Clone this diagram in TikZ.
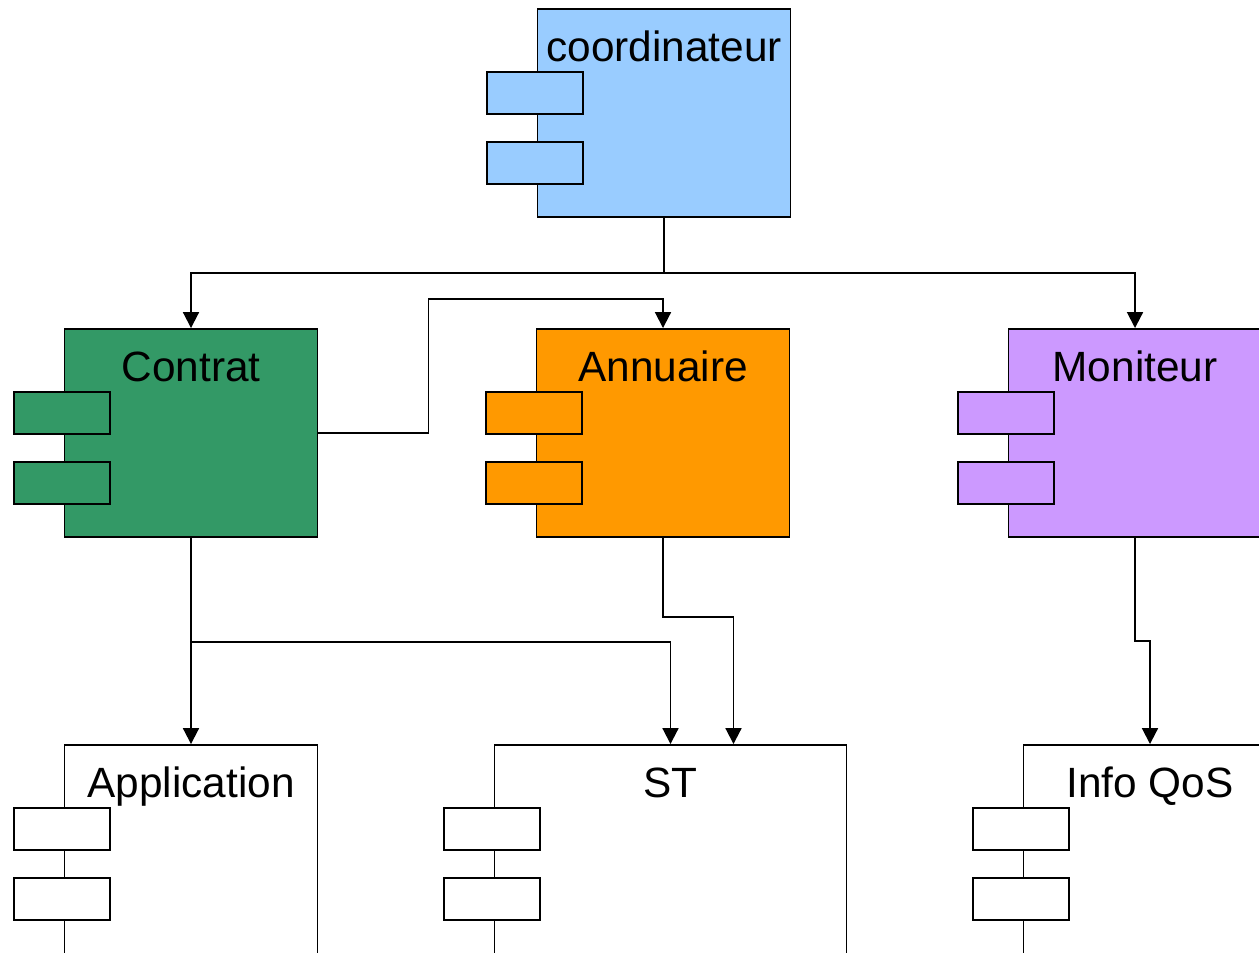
\documentclass[tikz,border=0pt]{standalone}
\usepackage{fontspec}
\setmainfont{Liberation Sans}
\usepackage{tikz}
\usetikzlibrary{arrows.meta}
\definecolor{coordblue}{HTML}{99CCFF}
\definecolor{contratgreen}{HTML}{339966}
\definecolor{annuaireorange}{HTML}{FF9900}
\definecolor{moniteurpurple}{HTML}{CC99FF}

\begin{document}
\begin{tikzpicture}[->,>={Triangle[length=9pt,width=9pt]},line width=1.1pt,node distance=9.44cm,
  comp/.style={draw,rectangle,inner sep=0pt,minimum width=5.06cm,minimum height=4.16cm,
    text height=1.05cm,text depth=3.11cm,font=\fontsize{24.1}{28}\selectfont},
  lowcomp/.style={comp,text depth=3.31cm,yshift=-0.1cm}]
  \clip (0,0) rectangle (25.18,-19.04);
  \node [comp,fill=contratgreen] at (3.82,-8.66) (contrat) {Contrat};
  \node [comp,fill=annuaireorange,right of=contrat] (annuaire) {Annuaire};
  \node [comp,fill=moniteurpurple,right of=annuaire] (moniteur) {Moniteur};
  \node [comp,fill=coordblue,above of=annuaire,node distance=6.4cm,xshift=0.02cm] (coord) {coordinateur};
  \node [lowcomp,below of=contrat,node distance=8.32cm] (application) {Application};
  \node [lowcomp,below of=annuaire,node distance=8.32cm,xshift=0.15cm,minimum width=7.04cm] (st) {ST};
  \node [lowcomp,below of=moniteur,node distance=8.32cm,xshift=0.3cm] (infoqos) {Info QoS};

  \foreach \n/\c in {coord/coordblue,contrat/contratgreen,annuaire/annuaireorange,moniteur/moniteurpurple,application/white,st/white,infoqos/white}
    \draw[-,fill=\c] ([shift={(-1,-1.28)}]\n.north west) rectangle +(1.92,-0.84)
      ([shift={(-1,-2.68)}]\n.north west) rectangle +(1.92,-0.84);

  \draw[-] (coord.south) -- ++(0,-1.1) coordinate (split);
  \draw (split) -| (contrat.north);
  \draw (split) -| (moniteur.north);
  \draw (contrat.east) -- ++(2.2,0) |- ([yshift=0.58cm]annuaire.north) -- (annuaire.north);
  \draw (contrat.south) -- ++(0,-2.08) coordinate (fork) -- (application.north);
  \draw (fork) -| (st.north);
  \draw (annuaire.south) -- ++(0,-1.58) -| ([xshift=1.26cm]st.north);
  \draw (moniteur.south) -- ++(0,-2.06) -| (infoqos.north);
\end{tikzpicture}
\end{document}
